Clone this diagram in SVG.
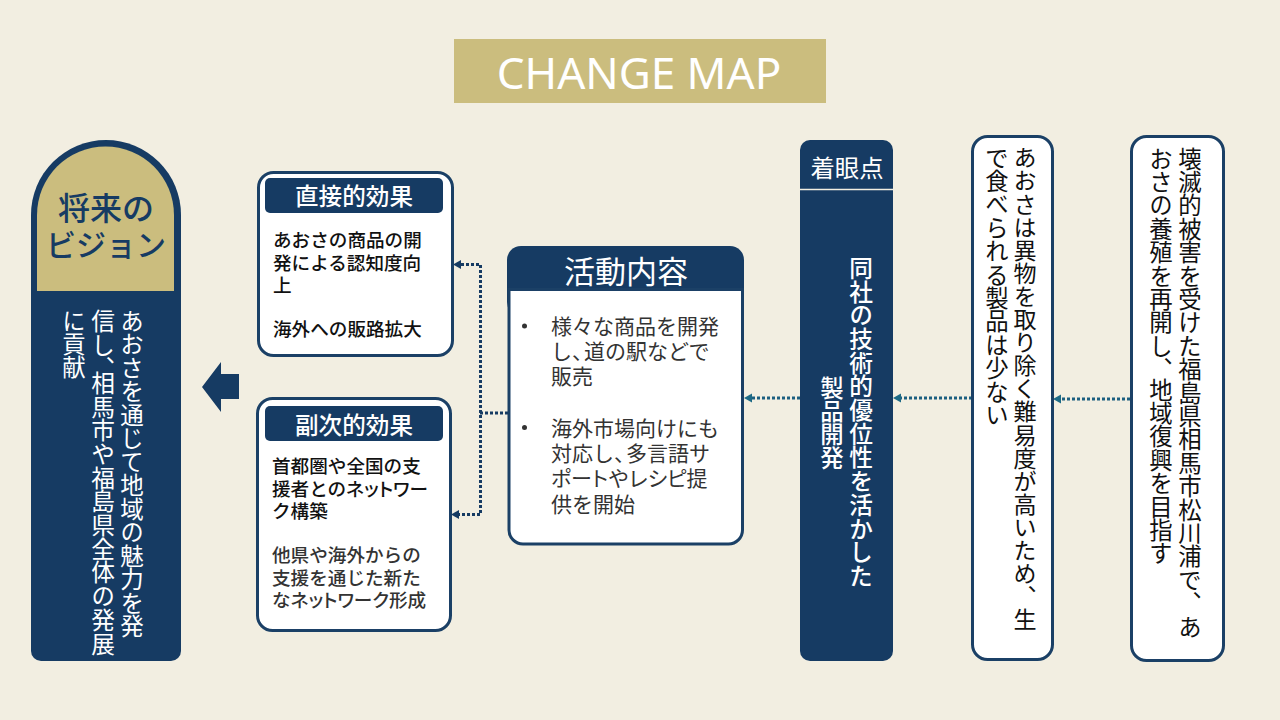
<svg xmlns="http://www.w3.org/2000/svg" width="1280" height="720" viewBox="0 0 1280 720">
<style>
text{font-family:"Noto Sans CJK JP","Noto Sans",sans-serif;}
.v{writing-mode:vertical-rl;text-orientation:upright;font-size:23.4px;}
.h{dominant-baseline:central;}
.w{fill:#fff;}
.k{fill:#111;}
.n{fill:#163B63;}
.p{font-feature-settings:"palt";}
.box{fill:#fff;stroke:#1B4066;stroke-width:3;}
.navy{fill:#163B63;}
.body{font-size:18.6px;dominant-baseline:central;fill:#111;font-weight:500;}
.soft{fill:#333;}
.act{font-size:21px;dominant-baseline:central;fill:#333;}
.hd{font-size:23.6px;dominant-baseline:central;text-anchor:middle;fill:#fff;font-weight:500;}
.dot{fill:none;stroke-width:3;stroke-dasharray:3 2;}
.teal{stroke:#1D5F80;}
.dk{stroke:#163B63;}
.tip-t{fill:#1D6A86;}
</style>
<rect width="1280" height="720" fill="#F2EEE1"/>
<g id="title">
<rect x="454" y="39" width="372" height="64" fill="#CBBD7E"/>
<text x="639" y="72" class="h w" font-size="44" text-anchor="middle" style="font-family:'Noto Sans','Open Sans',sans-serif">CHANGE MAP</text>
</g>
<g id="connectors">
<path class="dot teal" d="M1130 399H1061"/>
<path class="tip-t" d="M1053 399L1061 394.500V403.500Z"/>
<path class="dot teal" d="M972 398H901"/>
<path class="tip-t" d="M893 398L901 393.500V402.500Z"/>
<path class="dot teal" d="M800 398H752"/>
<path class="tip-t" d="M744 398L752 393.500V402.500Z"/>
<path class="dot dk" d="M508 413H480"/>
<path class="dot dk" d="M461 264.500H480.500V514.500H459"/>
<path class="navy" d="M453 264.500L461 260V269Z"/>
<path class="navy" d="M451 514.500L459 510V519Z"/>
<path class="navy" d="M239 374H221V362L202 387L221 412V399H239Z"/>
</g>
<g id="vision">
<path class="navy" d="M31 215A75 75 0 0 1 181 215V651A10 10 0 0 1 171 661H41A10 10 0 0 1 31 651Z"/>
<path d="M37 215A68.500 68.500 0 0 1 174 215V291H37Z" fill="#CBBD7E"/>
<text x="106" y="206" class="h n" font-size="32" font-weight="500" text-anchor="middle">将来の</text>
<text x="106" y="243" class="h n" font-size="30" font-weight="500" text-anchor="middle">ビジョン</text>
<text x="132" y="309" class="v w" style="font-size:23.500px">あおさを通じて地域の魅力を発</text>
<text x="103" y="309" class="v w" style="font-size:23.700px">信し、<tspan dy="-9">相馬市や福島県全体の発展</tspan></text>
<text x="74" y="309" class="v w">に貢献</text>
</g>
<g id="direct-effect">
<rect class="box" x="258.500" y="172.500" width="194" height="183" rx="15"/>
<rect class="navy" x="265" y="178" width="178" height="35" rx="5"/>
<text x="354" y="195" class="hd">直接的効果</text>
<text x="273" y="238" class="body">あおさの商品の開</text>
<text x="273" y="261" class="body">発による認知度向</text>
<text x="273" y="283" class="body">上</text>
<text x="273" y="327" class="body">海外への販路拡大</text>
</g>
<g id="secondary-effect">
<rect class="box" x="257.500" y="398.500" width="193" height="232" rx="15"/>
<rect class="navy" x="265" y="406" width="178" height="35" rx="5"/>
<text x="354" y="424" class="hd">副次的効果</text>
<text x="272" y="464" class="body">首都圏や全国の支</text>
<text x="272" y="487" class="body">援者との<tspan class="p">ネットワー</tspan></text>
<text x="272" y="509" class="body">ク構築</text>
<text x="272" y="553" class="body soft">他県や海外からの</text>
<text x="272" y="576" class="body soft">支援を通じた新た</text>
<text x="272" y="598" class="body soft">な<tspan class="p">ネットワーク</tspan>形成</text>
</g>
<g id="activity">
<rect class="navy" x="507" y="246" width="237" height="70" rx="14"/>
<path class="box" d="M509 289.500H742.500V530A14 14 0 0 1 728.500 544H523A14 14 0 0 1 509 530Z"/>
<text x="626" y="269" class="h w" font-size="31" text-anchor="middle">活動内容</text>
<circle cx="524.500" cy="326" r="2.500" fill="#333"/>
<circle cx="524.500" cy="427.500" r="2.500" fill="#333"/>
<text x="551" y="325" class="act">様々な商品を開発</text>
<text x="551" y="350" class="act">し、<tspan dx="-9">道の駅などで</tspan></text>
<text x="551" y="375" class="act">販売</text>
<text x="551" y="427" class="act">海外市場向けにも</text>
<text x="551" y="452" class="act">対応し、<tspan dx="-9">多言語サ</tspan></text>
<text x="551" y="477" class="act"><tspan class="p">ポート</tspan>や<tspan class="p">レシピ</tspan>提</text>
<text x="551" y="503" class="act">供を開始</text>
</g>
<g id="focus">
<path class="navy" d="M810 140H883A10 10 0 0 1 893 150V651A10 10 0 0 1 883 661H810A10 10 0 0 1 800 651V150A10 10 0 0 1 810 140Z"/>
<path d="M800 189.500H893" stroke="#F2EEE1" stroke-width="1.500"/>
<text x="847" y="166" class="h w" font-size="24.400" text-anchor="middle">着眼点</text>
<text x="861" y="256" class="v w" font-weight="500" style="font-size:23.700px">同社の技術的優位性を活かした</text>
<text x="832" y="376" class="v w" font-weight="500">製品開発</text>
</g>
<g id="insight">
<rect class="box" x="972.500" y="136.500" width="80" height="523" rx="15"/>
<text x="1025" y="146" class="v k" style="font-size:23.100px">あおさは異物を取り除く難易度が高いため、生</text>
<text x="997" y="146" class="v k">で食べられる製品は少ない</text>
</g>
<g id="background">
<rect class="box" x="1131.500" y="136.500" width="92" height="524" rx="15"/>
<text x="1190" y="147" class="v k">壊滅的被害を受けた福島県相馬市松川浦で、あ</text>
<text x="1161" y="147" class="v k">おさの養殖を再開し、<tspan dy="-3">地域復興を目指す</tspan></text>
</g>
</svg>
